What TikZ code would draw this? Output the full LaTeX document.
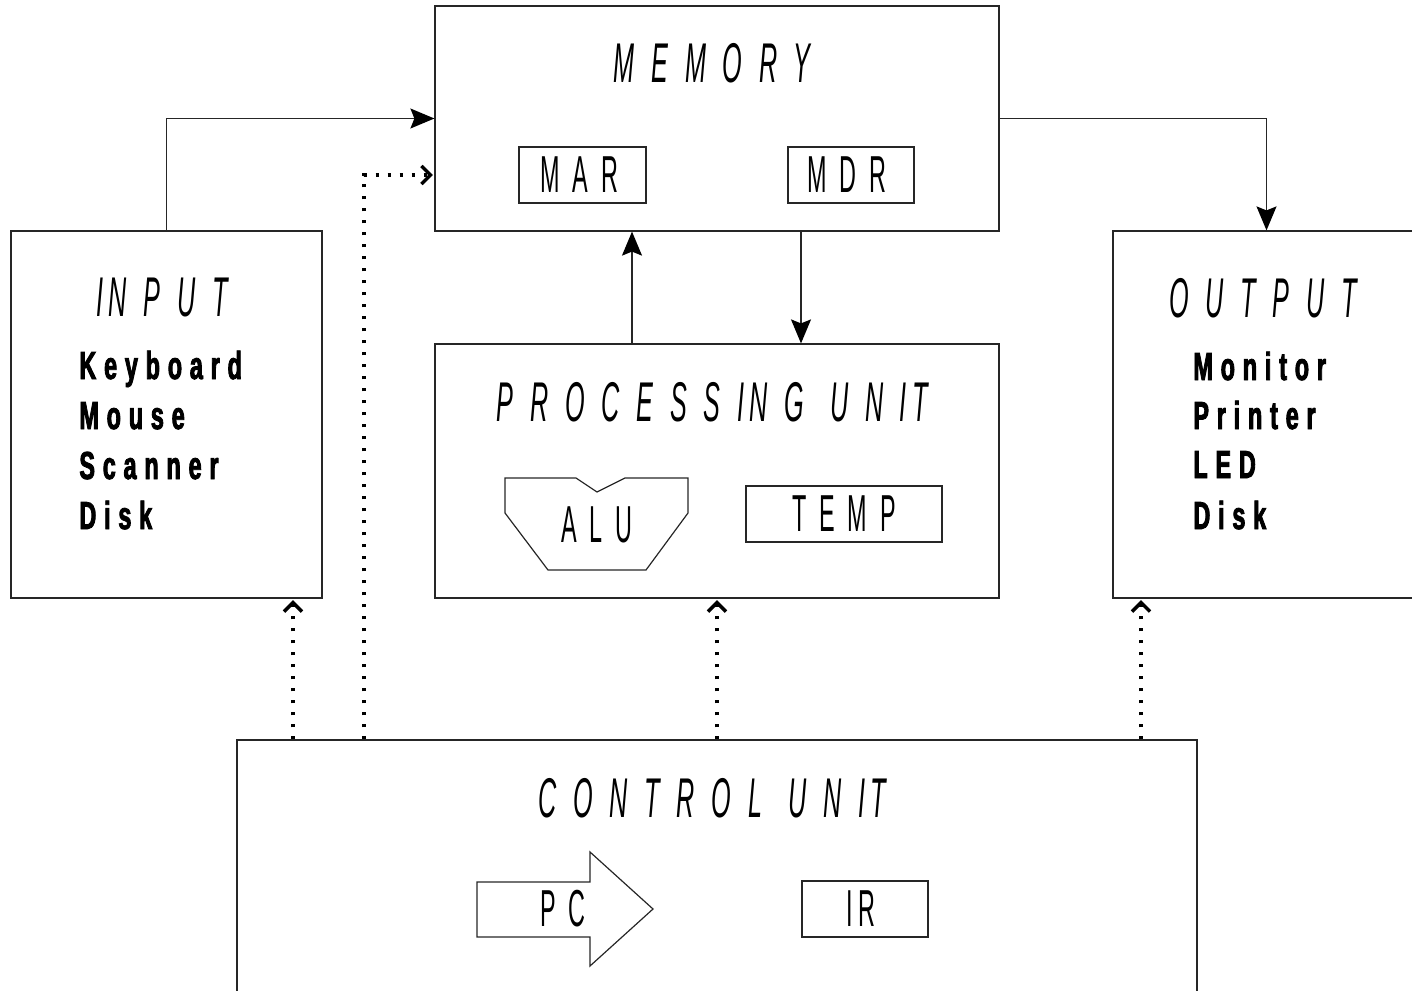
\documentclass[tikz,border=0pt]{standalone}
\usepackage{fontspec}
\usetikzlibrary{arrows.meta,calc}
\newfontfamily\ttlfont[FakeStretch=0.45,LetterSpace=30]{Liberation Sans}
\newfontfamily\lblfont[FakeStretch=0.45,LetterSpace=25]{Liberation Sans}
\newfontfamily\lstfont[FakeStretch=0.6,LetterSpace=20,BoldFeatures={FakeBold=2.2}]{Liberation Sans}
\newcommand{\tI}{I\kern2.5pt}
\newcommand{\wsp}{\hspace{13pt}}
\begin{document}
\begin{tikzpicture}[x=0.5pt,y=-0.5pt,
  box/.style={draw=black!85,line width=0.6pt,inner sep=0pt,rectangle},
  ttl/.style={inner sep=0pt,font=\ttlfont\itshape\fontsize{28}{30}\selectfont},
  lbl/.style={inner sep=0pt,font=\lblfont\fontsize{26}{28}\selectfont},
  lst/.style={inner sep=0pt,anchor=base west,font=\lstfont\bfseries\fontsize{19.5}{21}\selectfont},
  solidarr/.style={draw=black!85,line width=0.7pt,-{Stealth[length=12pt,width=10pt,inset=2pt,black]}},
  dotline/.style={line width=1.7pt,dash pattern=on 1.9pt off 4.1pt},
  chev/.style={line width=1.7pt,line join=miter}]
\path[use as bounding box] (0,0) rectangle (1412,990);
\clip (0,0) rectangle (1412,990);
% main boxes
\node[box,minimum width=282pt,minimum height=112.5pt] (mem) at (717,118.5) {};
\node[box,minimum width=155.5pt,minimum height=183.5pt] (in) at (166.5,414.5) {};
\node[box,minimum width=153.5pt,minimum height=183.5pt] (out) at (1266.5,414.5) {};
\node[box,minimum width=282pt,minimum height=127pt] (proc) at (717,471) {};
\node[box,minimum width=480pt,minimum height=130pt] (ctl) at (717,870) {};
% inner boxes
\node[box,minimum width=63.5pt,minimum height=28pt] (mar) at (582.5,175) {};
\node[lbl] (martxt) at (579,175) {MAR};
\node[box,minimum width=63pt,minimum height=28pt] (mdr) at (851,175) {};
\node[lbl] (mdrtxt) at (847,175) {MDR};
\node[box,minimum width=98pt,minimum height=28pt] (temp) at (844,514) {};
\node[lbl] (temptxt) at (844,514) {TEMP};
\node[box,minimum width=63pt,minimum height=28pt] (ir) at (865,909) {};
\node[lbl] (irtxt) at (861,909) {\tI R};
% ALU shape
\draw[draw=black!85,line width=0.6pt] (505,478) -- (576,478) -- (597,492) -- (625,478) -- (688,478) -- (688,513) -- (646,570) -- (548,570) -- (505,513) -- cycle;
\node[lbl] (alu) at (597,525) {ALU};
% PC arrow shape
\draw[draw=black!85,line width=0.6pt] (477,882) -- (590,882) -- (590,852) -- (653,909) -- (590,966) -- (590,937) -- (477,937) -- cycle;
\node[lbl] (pc) at (563,909) {PC};
% titles
\node[ttl] (memt) at (712,63) {MEMORY};
\node[ttl] (int) at (162,298) {\tI NPUT};
\node[ttl] (outt) at (1263,298) {OUTPUT};
\node[ttl] (proct) at (712,402) {PROCESS\tI NG\wsp UN\tI T};
\node[ttl] (ctlt) at (712,798) {CONTROL\wsp UN\tI T};
% lists
\node[lst] (i1) at (79,379) {Keyboard};
\node[lst] (i2) at (79,429) {Mouse};
\node[lst] (i3) at (79,479) {Scanner};
\node[lst] (i4) at (79,529) {Disk};
\node[lst] (o1) at (1193,380) {Monitor};
\node[lst] (o2) at (1193,429) {Printer};
\node[lst] (o3) at (1193,478) {LED};
\node[lst] (o4) at (1193,529) {Disk};
% helper coordinates
\coordinate (xa) at (632,0);
\coordinate (xb) at (801,0);
\coordinate (d1) at (293,0);
\coordinate (d2) at (364,175);
\coordinate (d3) at (717,0);
\coordinate (d4) at (1141,0);
% solid connectors
\draw[solidarr] (in.north) |- (mem.west);
\draw[solidarr] (mem.east) -| (out.north);
\draw[solidarr] (proc.north -| xa) -- (mem.south -| xa);
\draw[solidarr] (mem.south -| xb) -- (proc.north -| xb);
% dotted control connectors with open chevron heads
\draw[dotline] (ctl.north -| d1) -- ($(in.south -| d1)+(0,5)$);
\draw[chev] ($(in.south -| d1)+(-9,13)$) -- ($(in.south -| d1)+(0,4)$) -- ($(in.south -| d1)+(9,13)$);
\draw[dotline] (ctl.north -| d2) |- ($(mem.west |- d2)+(-5,0)$);
\draw[chev] ($(mem.west |- d2)+(-13,-9)$) -- ($(mem.west |- d2)+(-4,0)$) -- ($(mem.west |- d2)+(-13,9)$);
\draw[dotline] (ctl.north -| d3) -- ($(proc.south -| d3)+(0,5)$);
\draw[chev] ($(proc.south -| d3)+(-9,13)$) -- ($(proc.south -| d3)+(0,4)$) -- ($(proc.south -| d3)+(9,13)$);
\draw[dotline] (ctl.north -| d4) -- ($(out.south -| d4)+(0,5)$);
\draw[chev] ($(out.south -| d4)+(-9,13)$) -- ($(out.south -| d4)+(0,4)$) -- ($(out.south -| d4)+(9,13)$);
\end{tikzpicture}
\end{document}
